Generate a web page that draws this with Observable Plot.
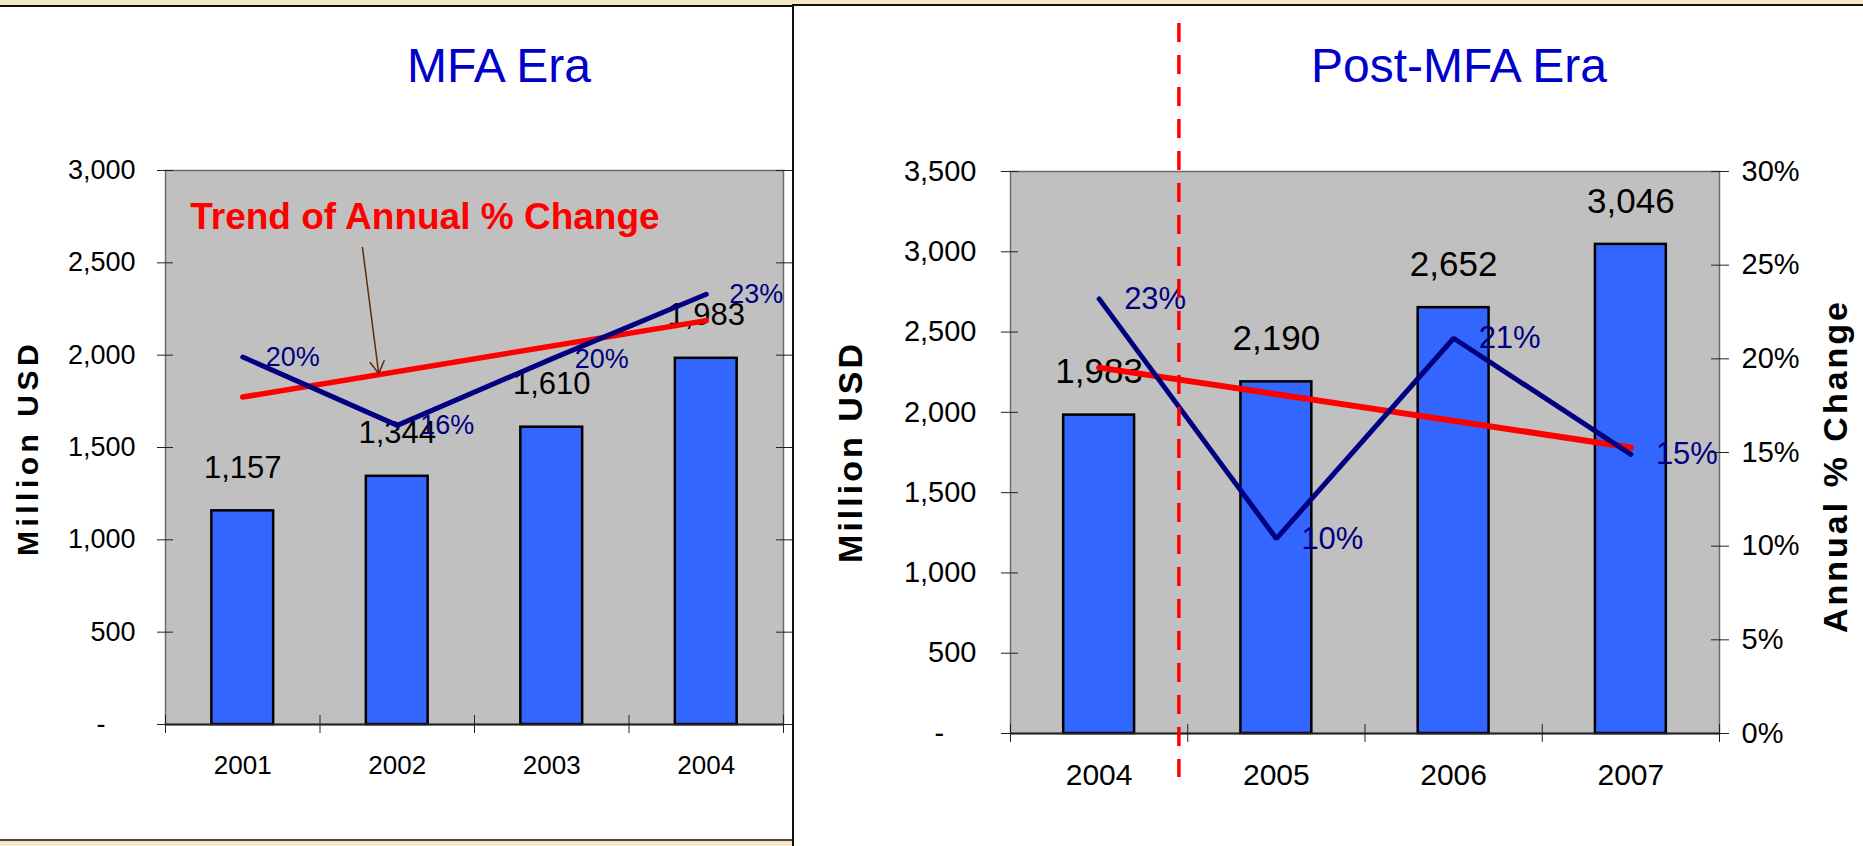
<!DOCTYPE html>
<html>
<head>
<meta charset="utf-8">
<script src="https://cdn.jsdelivr.net/npm/d3@7"></script>
<script src="https://cdn.jsdelivr.net/npm/@observablehq/plot@0.6"></script>
<style>
html,body{margin:0;padding:0;}
body{width:1863px;height:846px;background:#f4e8c5;position:relative;overflow:hidden;font-family:"Liberation Sans",Arial,sans-serif;}
.panel{position:absolute;background:#fff;box-sizing:border-box;}
#pl{left:0;top:5px;width:794px;height:836px;border-top:2px solid #111;border-right:2px solid #111;border-bottom:2px solid #444;}
#pr{left:792px;top:4px;width:1071px;height:844px;border-top:2px solid #111;border-left:2px solid #111;}
.title{position:absolute;color:#0000cc;font-size:48px;line-height:48px;white-space:nowrap;transform:translateX(-50%);}
.ytitle{position:absolute;font-weight:bold;white-space:nowrap;color:#000;line-height:1;transform:translate(-50%,-50%) rotate(-90deg);}
.chart{position:absolute;top:0;}
</style>
</head>
<body>
<div class="panel" id="pl"></div>
<div class="panel" id="pr"></div>
<div id="cl" class="chart" style="left:0"></div>
<div id="cr" class="chart" style="left:794px"></div>
<div class="title" style="left:499px;top:42px">MFA Era</div>
<div class="title" style="left:1459px;top:42px">Post-MFA Era</div>
<div class="ytitle" style="left:28px;top:448px;font-size:30px;letter-spacing:4.5px">Million USD</div>
<div class="ytitle" style="left:850px;top:452px;font-size:34px;letter-spacing:3px">Million USD</div>
<div class="ytitle" style="left:1835px;top:466px;font-size:34px;letter-spacing:3px">Annual % Change</div>
<script>
// ---- data ----
const leftYears = [2001, 2002, 2003, 2004];
const leftUsd = [1157, 1344, 1610, 1983];
const leftPct = [0.199, 0.162, 0.198, 0.233];

const rightYears = [2004, 2005, 2006, 2007];
const rightUsd = [1983, 2190, 2652, 3046];
const rightPct = [0.232, 0.104, 0.211, 0.149];

const leftUsdTicks = [0, 500, 1000, 1500, 2000, 2500, 3000];
const rightUsdTicks = [0, 500, 1000, 1500, 2000, 2500, 3000, 3500];
const pctTicks = [0, 0.05, 0.10, 0.15, 0.20, 0.25, 0.30];
const leftYearBounds = [2000.5, 2001.5, 2002.5, 2003.5, 2004.5];
const rightYearBounds = [2003.5, 2004.5, 2005.5, 2006.5, 2007.5];

// annotations (data units)
const trendNote = [{text: "Trend of Annual % Change", x: 2000.66, y: 2750}];
const trendArrow = [{x1: 2001.775, y1: 2583, x2: 2001.88, y2: 1900}];
const mfaEnd = [{x: 2004.45, y1: 4422, y2: -274}];

// ---- helpers ----
const FONT = '"Liberation Sans", Arial, sans-serif';
const BAR_HALF = 0.2;
const fmtComma = d3.format(",");
const fmtUsd = d => d === 0 ? "-\u2007\u2007" : fmtComma(d);
const fmtPct = d3.format(".0%");

const L = leftYears.map((year, i) => ({year, usd: leftUsd[i], pct: leftPct[i]}));
const R = rightYears.map((year, i) => ({year, usd: rightUsd[i], pct: rightPct[i]}));
const kL = 3000 / 0.30;
const kR = 3500 / 0.30;

const left = Plot.plot({
  width: 790, height: 840,
  marginLeft: 165, marginRight: 7, marginTop: 170, marginBottom: 116,
  style: {background: "transparent", fontFamily: FONT, color: "#000", overflow: "visible"},
  x: {domain: [2000.5, 2004.5]},
  y: {domain: [0, 3000]},
  marks: [
    Plot.frame({fill: "#c0c0c0", stroke: "#6b6b6b", strokeWidth: 1.5}),
    Plot.rectY(L, {x1: d => d.year - BAR_HALF, x2: d => d.year + BAR_HALF, y: "usd", fill: "#3366ff", stroke: "#000", strokeWidth: 2.5}),
    Plot.ruleY([0], {stroke: "#222", strokeWidth: 2}),
    Plot.axisY({ticks: leftUsdTicks, tickSize: 16, dx: 8, tickFormat: () => "", label: null, stroke: "#222"}),
    Plot.axisY({ticks: leftUsdTicks, tickSize: 0, tickPadding: 30, tickFormat: fmtUsd, fontSize: 27, label: null}),
    Plot.axisY({anchor: "right", ticks: pctTicks.map(p => p * kL), tickSize: 16, dx: -8, tickFormat: () => "", label: null, stroke: "#222"}),
    Plot.axisX({ticks: leftYearBounds, tickSize: 18, dy: -9, tickFormat: () => "", label: null, stroke: "#222"}),
    Plot.axisX({ticks: leftYears, tickSize: 0, tickPadding: 31, tickFormat: d => String(d), fontSize: 26, label: null}),
    Plot.text(L, {x: "year", y: "usd", text: d => fmtComma(d.usd), dy: -43, fontSize: 31, lineAnchor: "middle", fill: "#000"}),
    Plot.linearRegressionY(L, {x: "year", y: d => d.pct * kL, stroke: "#ff0000", strokeWidth: 5.5, ci: 0}),
    Plot.line(L, {x: "year", y: d => d.pct * kL, stroke: "#000080", strokeWidth: 5, strokeLinejoin: "miter"}),
    Plot.text(L, {x: "year", y: d => d.pct * kL, text: d => fmtPct(d.pct), textAnchor: "start", dx: 23, fill: "#000080", fontSize: 27}),
    Plot.text(trendNote, {x: "x", y: "y", text: "text", textAnchor: "start", fill: "#ff0000", fontWeight: "bold", fontSize: 37}),
    Plot.arrow(trendArrow, {x1: "x1", y1: "y1", x2: "x2", y2: "y2", stroke: "#5c2e0a", strokeWidth: 1.5, headLength: 14})
  ]
});
document.getElementById("cl").append(left);

const right = Plot.plot({
  width: 1069, height: 846,
  marginLeft: 216, marginRight: 144, marginTop: 171, marginBottom: 113,
  style: {background: "transparent", fontFamily: FONT, color: "#000", overflow: "visible"},
  x: {domain: [2003.5, 2007.5]},
  y: {domain: [0, 3500]},
  marks: [
    Plot.frame({fill: "#c0c0c0", stroke: "#6b6b6b", strokeWidth: 1.5}),
    Plot.rectY(R, {x1: d => d.year - BAR_HALF, x2: d => d.year + BAR_HALF, y: "usd", fill: "#3366ff", stroke: "#000", strokeWidth: 2.5}),
    Plot.ruleY([0], {stroke: "#222", strokeWidth: 2}),
    Plot.axisY({ticks: rightUsdTicks, tickSize: 17, dx: 8, tickFormat: () => "", label: null, stroke: "#222"}),
    Plot.axisY({ticks: rightUsdTicks, tickSize: 0, tickPadding: 34, tickFormat: fmtUsd, fontSize: 29, label: null}),
    Plot.axisY({anchor: "right", ticks: pctTicks.map(p => p * kR), tickSize: 18, dx: -9, tickFormat: () => "", label: null, stroke: "#222"}),
    Plot.axisY({anchor: "right", ticks: pctTicks.map(p => p * kR), tickSize: 0, tickPadding: 22, tickFormat: d => fmtPct(d / kR), fontSize: 29, label: null}),
    Plot.axisX({ticks: rightYearBounds, tickSize: 18, dy: -9, tickFormat: () => "", label: null, stroke: "#222"}),
    Plot.axisX({ticks: rightYears, tickSize: 0, tickPadding: 30, tickFormat: d => String(d), fontSize: 30, label: null}),
    Plot.text(R, {x: "year", y: "usd", text: d => fmtComma(d.usd), dy: -43, fontSize: 35, lineAnchor: "middle", fill: "#000"}),
    Plot.linearRegressionY(R, {x: "year", y: d => d.pct * kR, stroke: "#ff0000", strokeWidth: 6, ci: 0}),
    Plot.line(R, {x: "year", y: d => d.pct * kR, stroke: "#000080", strokeWidth: 5, strokeLinejoin: "miter"}),
    Plot.text(R, {x: "year", y: d => d.pct * kR, text: d => fmtPct(d.pct), textAnchor: "start", dx: 25, fill: "#000080", fontSize: 31}),
    Plot.ruleX(mfaEnd, {x: "x", y1: "y1", y2: "y2", stroke: "#ff0000", strokeWidth: 3.5, strokeDasharray: "19,13"})
  ]
});
document.getElementById("cr").append(right);
</script>
</body>
</html>
